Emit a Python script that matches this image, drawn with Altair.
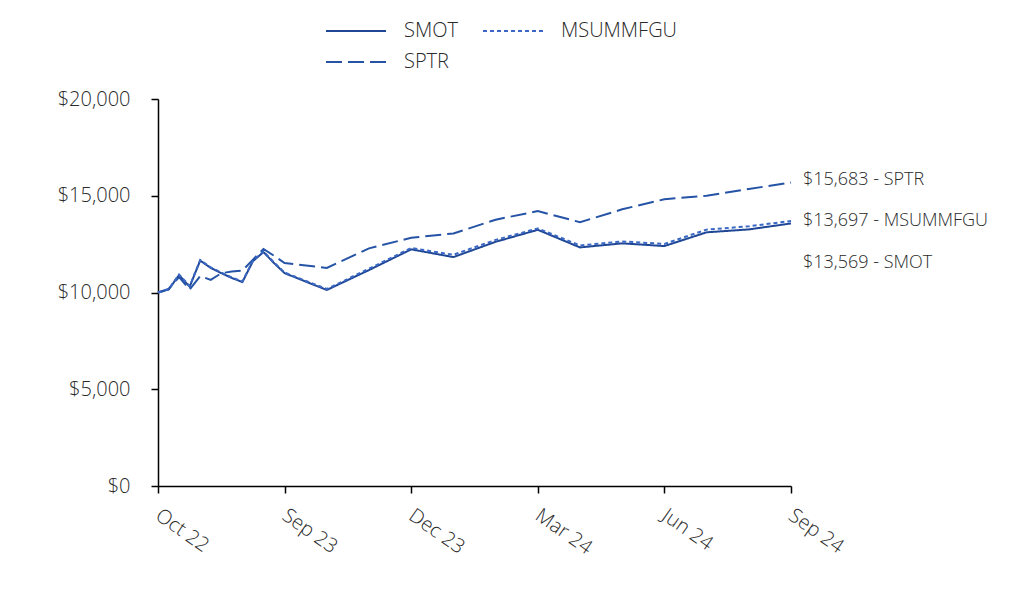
import json
import altair as alt
import pandas as pd

# ---- data ----
tick_labels = ["Oct 22", "Sep 23", "Dec 23", "Mar 24", "Jun 24", "Sep 24"]
steps_per_segment = [12, 3, 3, 3, 3]   # data points between consecutive labelled ticks

series_names = ["SMOT", "SPTR", "MSUMMFGU"]

smot = [10000, 10150, 10900, 10300, 11650, 11270, 11000, 10750, 10540, 11620,
        12090, 11520, 11000, 10130, 11160, 12230, 11830, 12620, 13240, 12330,
        12540, 12400, 13110, 13260, 13569]
msummfgu = [10000, 10170, 10930, 10330, 11680, 11300, 11030, 10780, 10570, 11650,
            12120, 11550, 11030, 10180, 11230, 12300, 11950, 12720, 13310, 12430,
            12640, 12510, 13250, 13420, 13697]
sptr = [10000, 10180, 10800, 10150, 10850, 10650, 11000, 11080, 11130, 11700,
        12250, 11900, 11520, 11270, 12280, 12830, 13050, 13760, 14210, 13630,
        14300, 14820, 15000, 15350, 15683]

# positions along the axis: each labelled interval = 1 unit
pos = [0.0]
for seg, n in enumerate(steps_per_segment):
    for k in range(1, n + 1):
        pos.append(seg + k / n)

values = {"SMOT": smot, "SPTR": sptr, "MSUMMFGU": msummfgu}
rows = []
for name in series_names:
    for p, v in zip(pos, values[name]):
        rows.append({"pos": p, "value": v, "series": name})
df = pd.DataFrame(rows)

last = pd.DataFrame({
    "series": series_names,
    "pos": [pos[-1]] * 3,
    "value": [values[n][-1] for n in series_names],
})
last["label"] = last.apply(lambda r: f"${r['value']:,.0f} - {r['series']}", axis=1)

colors = ["#1f4796", "#2553a6", "#3a68c4"]
dashes = [[1, 0], [16, 6], [4, 3]]
label_dy = {"SMOT": 40, "MSUMMFGU": 0, "SPTR": -3}

FONT = "Open Sans"
TXT = "#2a2a2a"
W = 300

label_expr = json.dumps(tick_labels) + "[datum.value]"

base = alt.Chart(df)

lines = base.mark_line(strokeWidth=2).encode(
    x=alt.X("pos:Q",
            scale=alt.Scale(domain=[0, len(tick_labels) - 1], nice=False),
            axis=alt.Axis(values=list(range(len(tick_labels))), labelExpr=label_expr,
                          title=None, grid=False, labelAngle=35, labelAlign="left",
                          labelBaseline="top", labelPadding=12, labelOffset=5,
                          tickSize=7,
                          labelFontSize=20, labelColor=TXT, labelFont=FONT,
                          labelFontWeight=W,
                          domainColor="black", tickColor="black", domainWidth=1.5,
                          tickWidth=1.5)),
    y=alt.Y("value:Q",
            scale=alt.Scale(domain=[0, 20000], nice=False),
            axis=alt.Axis(values=[0, 5000, 10000, 15000, 20000], format="$,.0f",
                          title=None, grid=False, tickSize=7, labelPadding=21,
                          labelFontSize=20, labelColor=TXT, labelFont=FONT,
                          labelFontWeight=W,
                          domainColor="black", tickColor="black", domainWidth=1.5,
                          tickWidth=1.5)),
    color=alt.Color("series:N",
                    scale=alt.Scale(domain=series_names, range=colors),
                    sort=series_names,
                    legend=alt.Legend(title=None, orient="none", legendX=187, legendY=-79,
                                      columns=2, symbolType="M-3,0H3", symbolSize=400,
                                      symbolStrokeWidth=2, labelFontSize=20,
                                      labelFont=FONT, labelColor=TXT, labelOffset=37,
                                      labelFontWeight=W,
                                      columnPadding=21, rowPadding=10)),
    strokeDash=alt.StrokeDash("series:N",
                              scale=alt.Scale(domain=series_names, range=dashes),
                              sort=series_names, legend=None),
    detail="series:N",
)

texts = []
for name in series_names:
    texts.append(
        alt.Chart(last[last["series"] == name]).mark_text(
            align="left", baseline="middle", dx=12, dy=label_dy[name],
            fontSize=18, font=FONT, color=TXT, fontWeight=W,
        ).encode(x="pos:Q", y="value:Q", text="label:N")
    )

chart = alt.layer(lines, *texts).properties(
    width=633, height=387,
    autosize=alt.AutoSizeParams(type="none"),
    padding={"left": 158, "top": 99, "right": 241, "bottom": 126},
    background="white",
).configure_view(strokeWidth=0)

chart.save("out.html", embed_options={"renderer": "svg", "actions": False})
